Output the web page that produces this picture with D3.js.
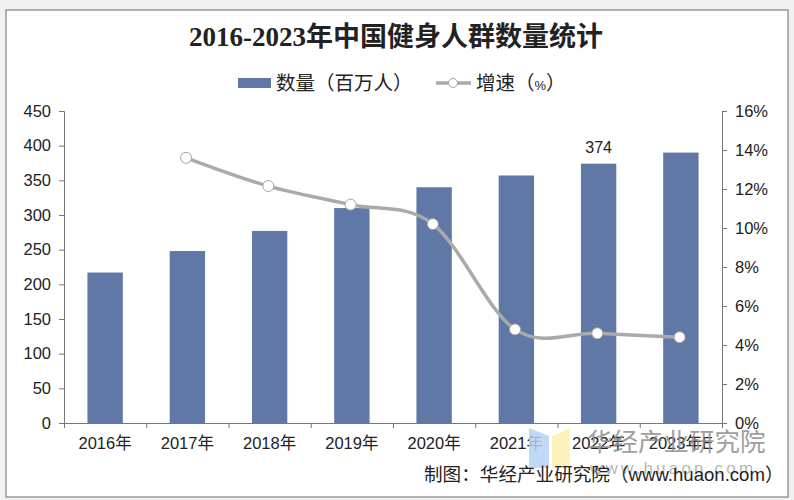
<!DOCTYPE html>
<html>
<head>
<meta charset="utf-8">
<script src="https://d3js.org/d3.v7.min.js"></script>
<style>
    body { margin: 0; background: #f1f1f1; }
    text { font-family: "Liberation Sans", "Noto Sans CJK SC", sans-serif; fill: #222; }
    .axis path, .axis line { stroke: #777; stroke-width: 1; }
    .axis text { font-size: 16.5px; fill: #222; }
    #title { font-family: "Liberation Serif", "Noto Sans CJK SC", serif; font-weight: 700; }
</style>
</head>
<body>
<svg id="chart" width="794" height="500"></svg>
<script>
    var years = ["2016年", "2017年", "2018年", "2019年", "2020年", "2021年", "2022年", "2023年E"];
    var amount = [217, 248, 277, 310, 340, 357, 374, 390];
    var growth = [null, 13.6, 12.15, 11.2, 10.2, 4.8, 4.6, 4.4];
    var leftTicks = [0, 50, 100, 150, 200, 250, 300, 350, 400, 450];
    var rightTicks = [0, 2, 4, 6, 8, 10, 12, 14, 16];
    var labelled = ["2022年"];

    var svg = d3.select("#chart");
    var plotLeft = 64, plotRight = 722, plotTop = 111, plotBottom = 423;
    var lineShift = -1.3; // the markers sit a touch left of the bar centres

    svg.append("rect").attr("x", 6).attr("y", 10).attr("width", 782).attr("height", 487)
        .attr("fill", "#fff").attr("stroke", "#999").attr("stroke-width", 1.5);

    var x = d3.scaleBand().domain(years).range([plotLeft, plotRight]).paddingInner(0.57).paddingOuter(0.285);
    var yLeft = d3.scaleLinear().domain([0, 450]).range([plotBottom, plotTop]);
    var yRight = d3.scaleLinear().domain([0, 16]).range([plotBottom, plotTop]);
    var xEdges = d3.scaleLinear().domain([0, years.length]).range([plotLeft, plotRight]);

    // bars
    svg.selectAll(".bar").data(years).enter().append("rect")
        .attr("class", "bar")
        .attr("x", function (d) { return x(d); })
        .attr("y", function (d, i) { return yLeft(amount[i]); })
        .attr("width", x.bandwidth())
        .attr("height", function (d, i) { return plotBottom - yLeft(amount[i]); })
        .attr("fill", "#5f78a6");

    // axes
    svg.append("g").attr("class", "axis").attr("transform", "translate(" + plotLeft + ",0)")
        .call(d3.axisLeft(yLeft).tickValues(leftTicks).tickSize(5).tickPadding(8));
    svg.append("g").attr("class", "axis").attr("transform", "translate(" + plotRight + ",0)")
        .call(d3.axisRight(yRight).tickValues(rightTicks).tickSize(5).tickPadding(8)
            .tickFormat(function (d) { return d + "%"; }));
    svg.append("g").attr("class", "axis").attr("transform", "translate(0," + plotBottom + ")")
        .call(d3.axisBottom(xEdges).ticks(years.length).tickSize(5).tickFormat(""));
    var xLabels = svg.append("g").attr("class", "axis").attr("transform", "translate(0," + plotBottom + ")")
        .call(d3.axisBottom(x).tickSize(0).tickPadding(14));
    xLabels.select("path").remove();

    // growth line
    var points = years.map(function (d, i) { return { year: d, value: growth[i] }; })
        .filter(function (d) { return d.value !== null; });
    var line = d3.line()
        .x(function (d) { return x(d.year) + x.bandwidth() / 2 + lineShift; })
        .y(function (d) { return yRight(d.value); })
        .curve(d3.curveCardinal.tension(0));
    svg.append("path").attr("d", line(points))
        .attr("fill", "none").attr("stroke", "#aaa").attr("stroke-width", 3.5);
    svg.selectAll(".dot").data(points).enter().append("circle")
        .attr("class", "dot")
        .attr("cx", function (d) { return x(d.year) + x.bandwidth() / 2 + lineShift; })
        .attr("cy", function (d) { return yRight(d.value); })
        .attr("r", 5.5)
        .attr("fill", "#fff").attr("stroke", "#a6a6a6").attr("stroke-width", 1);

    // value label
    svg.selectAll(".val").data(labelled).enter().append("text")
        .attr("class", "val")
        .attr("x", function (d) { return x(d) + x.bandwidth() / 2; })
        .attr("y", function (d) { return yLeft(amount[years.indexOf(d)]) - 11; })
        .attr("text-anchor", "middle").attr("font-size", 16)
        .text(function (d) { return amount[years.indexOf(d)]; });

    // title and legend
    svg.append("text").attr("id", "title").attr("x", 396).attr("y", 46)
        .attr("text-anchor", "middle").attr("font-size", 27)
        .text("2016-2023年中国健身人群数量统计");
    svg.append("rect").attr("x", 238).attr("y", 78).attr("width", 33).attr("height", 10).attr("fill", "#5f78a6");
    svg.append("text").attr("x", 276).attr("y", 90).attr("font-size", 19.5).text("数量（百万人）");
    svg.append("line").attr("x1", 436).attr("x2", 471).attr("y1", 83).attr("y2", 83)
        .attr("stroke", "#aaa").attr("stroke-width", 3.5);
    svg.append("circle").attr("cx", 453).attr("cy", 83).attr("r", 4.5)
        .attr("fill", "#fff").attr("stroke", "#a6a6a6");
    var growthKey = svg.append("text").attr("x", 476).attr("y", 90).attr("font-size", 19.5).text("增速（");
    growthKey.append("tspan").attr("font-size", 13).text("%");
    growthKey.append("tspan").text("）");

    // watermark
    svg.append("path").attr("d", "M529,428L549,436L549,468L529,468Z").attr("fill", "#b5d2f2").attr("opacity", 0.85);
    svg.append("path").attr("d", "M552,436L570,428L570,468L552,468Z").attr("fill", "#fdeeb0").attr("opacity", 0.85);
    svg.append("text").attr("x", 587).attr("y", 451).attr("font-size", 25.5)
        .style("fill", "#8f8f8f").attr("opacity", 0.85).text("华经产业研究院");
    svg.append("text").attr("x", 590).attr("y", 474).attr("font-size", 17).attr("letter-spacing", 3.2)
        .style("fill", "#9a9a9a").attr("opacity", 0.7).text("www.huaon.com");

    // source
    svg.append("text").attr("x", 424).attr("y", 481).attr("font-size", 18.6)
        .text("制图：华经产业研究院（www.huaon.com）");
</script>
</body>
</html>
